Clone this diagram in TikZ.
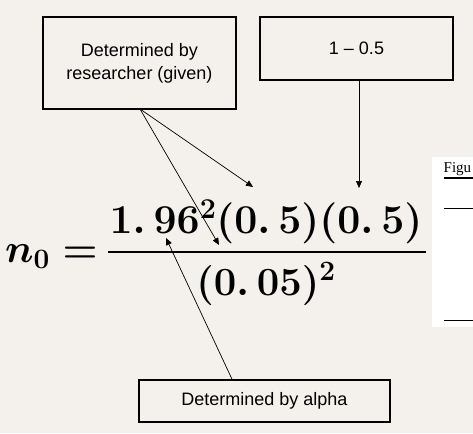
\RequirePackage{fix-cm}
\documentclass[tikz,border=0pt]{standalone}
\usepackage{fontspec}
\setsansfont{Liberation Sans}
\setmainfont{Liberation Serif}
\usetikzlibrary{arrows.meta}
\definecolor{bg}{HTML}{F4F1EC}
\begin{document}
\begin{tikzpicture}[x=1pt,y=-1pt,
  lbl/.style={draw=black,line width=1.6pt,font=\sffamily\fontsize{18}{23}\selectfont,align=center,inner sep=0pt},
  conn/.style={line width=0.7pt,-{Triangle[length=7pt,width=6pt]}},
  mathf/.style={font=\fontsize{40}{48}\selectfont\boldmath,inner sep=0pt}]
\fill[bg] (0,0) rectangle (473,433);
\useasboundingbox (0,0) rectangle (473,433);
% white panel
\fill[white] (432,157) rectangle (473,327);
\node[font=\rmfamily\fontsize{15}{17}\selectfont,anchor=base west,inner sep=0pt] (fig) at (443.5,172) {Figu};
\draw[line width=1.1pt] (444,178) -- (473,178);
\draw[line width=0.6pt] (444,208) -- (473,208);
\draw[line width=0.6pt] (444,320) -- (473,320);
% boxes
\node[lbl,minimum width=193pt,minimum height=92pt] (res) at (139.5,63) {Determined by\\researcher (given)};
\node[lbl,minimum width=193pt,minimum height=63pt] (one) at (356.5,48.5) {1 – 0.5};
\node[lbl,minimum width=251pt,minimum height=42pt] (alpha) at (264.5,401) {Determined by alpha};
% formula
\node[mathf,anchor=base west] (lhs) at (5,262) {$n_0 =$};
\node[mathf,anchor=base,font=\fontsize{41}{48}\selectfont\boldmath] (num) at (266,233) {$1.\,96^2(0.\,5)(0.\,5)$};
\node[mathf,anchor=base] (den) at (266,295) {$(0.\,05)^2$};
\draw[line width=2.6pt] (108,252) -- (426,252);
% arrow targets
\coordinate (t1) at (253,187);
\coordinate (t2) at (219,245);
\coordinate (t3) at (359,188);
\coordinate (t4) at (166,238);
\coordinate (s1) at (140,109);
\draw[conn] (s1) -- (t1);
\draw[conn] (s1) -- (t2);
\draw[conn] (one.south -| t3) -- (t3);
\draw[conn] (alpha.north -| 232,0) -- (t4);
\end{tikzpicture}
\end{document}
